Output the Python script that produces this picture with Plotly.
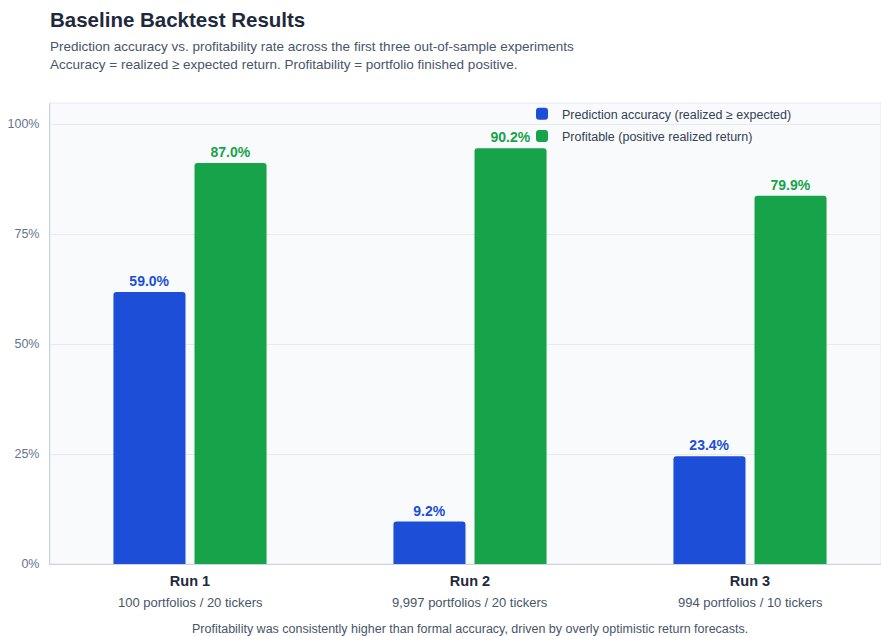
import plotly.graph_objects as go

runs = ["Run 1", "Run 2", "Run 3"]
run_details = ["100 portfolios / 20 tickers", "9,997 portfolios / 20 tickers", "994 portfolios / 10 tickers"]
accuracy = [59.0, 9.2, 23.4]
profitable = [87.0, 90.2, 79.9]
ytick_vals = [0, 25, 50, 75, 100]
ytick_text = ["0%", "25%", "50%", "75%", "100%"]

BLUE = "#1d4ed8"
GREEN = "#16a34a"
FONT = "Liberation Sans, Arial, sans-serif"

W, H = 881, 636
ML, MT, MB = 50, 103, 72
PH = H - MT - MB   # plot height in px
PW = W - ML

fig = go.Figure()
# invisible trace that anchors the visible percentage axis (ticks + grid)
fig.add_trace(go.Scatter(x=runs, y=profitable, mode="none", showlegend=False,
                         hoverinfo="skip", yaxis="y"))
fig.add_trace(go.Bar(
    x=runs, y=accuracy, name="Prediction accuracy (realized ≥ expected)", legendgroup="a",
    marker=dict(color=BLUE, cornerradius=3, line=dict(width=0)),
    text=[f"{v:.1f}%" for v in accuracy], textposition="outside",
    textfont=dict(color=BLUE, size=14, family=FONT, weight="bold"),
    cliponaxis=False, yaxis="y2",
))
fig.add_trace(go.Bar(
    x=runs, y=profitable, name="Profitable (positive realized return)", legendgroup="b",
    marker=dict(color=GREEN, cornerradius=3, line=dict(width=0)),
    text=[f"{v:.1f}%" for v in profitable], textposition="outside",
    textfont=dict(color=GREEN, size=14, family=FONT, weight="bold"),
    cliponaxis=False, yaxis="y2",
))

fig.update_layout(
    width=W, height=H,
    margin=dict(l=ML, r=0, t=MT, b=MB),
    paper_bgcolor="white", plot_bgcolor="#f8fafc",
    font=dict(family=FONT, color="#334155"),
    barmode="group", bargap=0.421, bargroupgap=0.111,
    title=dict(text="<b>Baseline Backtest Results</b>", x=0, xref="paper", xanchor="left",
               y=1 - 20 / H, yref="container", yanchor="middle",
               font=dict(size=20.5, color="#1e293b", family=FONT)),
    xaxis=dict(tickmode="array", tickvals=runs, ticktext=[f"<b>{r}</b>" for r in runs],
               range=[-0.5, PW / 280 - 0.5], showgrid=False, showline=True, linecolor="#cbd5e1",
               tickfont=dict(size=14.5, color="#1e293b", family=FONT), ticks="",
               ticklabelstandoff=4),
    yaxis=dict(range=[0, 104.8], tickvals=ytick_vals, ticktext=ytick_text,
               showgrid=True, gridcolor="#e5e9f0", zeroline=False,
               showline=True, linecolor="#cbd5e1",
               tickfont=dict(size=12.5, color="#64748b", family=FONT), ticks="", ticklabelstandoff=7),
    yaxis2=dict(range=[0, 100], overlaying="y", visible=False, showgrid=False),
    legend=dict(x=(522 - ML) / PW, y=1 - (99 - MT) / PH, xanchor="left", yanchor="top",
                bgcolor="rgba(0,0,0,0)", traceorder="grouped", tracegroupgap=3,
                font=dict(size=12.5, color="#334155", family=FONT), itemwidth=30),
    showlegend=True,
)

fig.add_annotation(text="Prediction accuracy vs. profitability rate across the first three out-of-sample experiments<br>"
                        "Accuracy = realized ≥ expected return. Profitability = portfolio finished positive.",
                   x=0, xref="paper", xanchor="left", xshift=-2,
                   y=1 + (MT - 55) / PH, yref="paper", yanchor="middle",
                   showarrow=False, align="left",
                   font=dict(size=13.5, color="#475569", family=FONT))
for r, d in zip(runs, run_details):
    fig.add_annotation(text=d, x=r, xref="x", y=-(602 - (H - MB)) / PH, yref="paper",
                       yanchor="middle", showarrow=False,
                       font=dict(size=13, color="#475569", family=FONT))
fig.add_annotation(text="Profitability was consistently higher than formal accuracy, driven by overly optimistic return forecasts.",
                   x=(470 - ML) / PW, xref="paper", xanchor="center",
                   y=-(629 - (H - MB)) / PH, yref="paper", yanchor="middle",
                   showarrow=False, font=dict(size=12.5, color="#475569", family=FONT))
# light frame around plot area
fig.add_shape(type="rect", xref="paper", yref="paper", x0=0, x1=1, y0=0, y1=1,
              line=dict(color="#e2e8f0", width=1), layer="below")

fig.write_html("out.html", config={"displayModeBar": False},
               post_script="document.body.style.margin='0';")
